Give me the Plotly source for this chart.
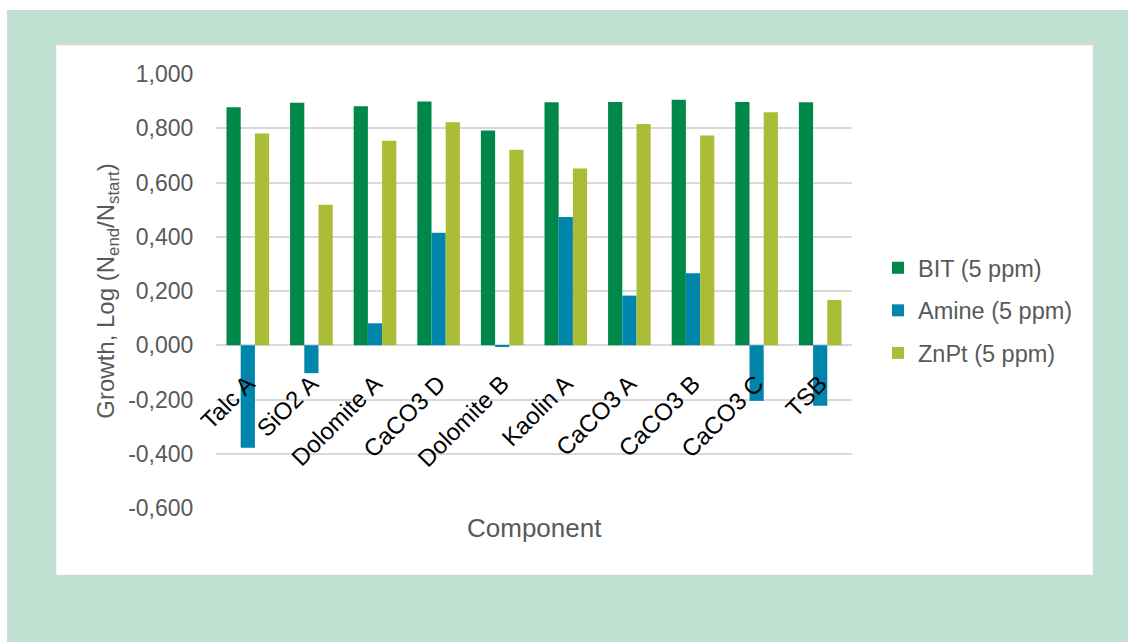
import plotly.graph_objects as go

# Growth of test organisms per mineral component and biocide
components = ["Talc A", "SiO2 A", "Dolomite A", "CaCO3 D", "Dolomite B",
              "Kaolin A", "CaCO3 A", "CaCO3 B", "CaCO3 C", "TSB"]
bit_5ppm = [0.877, 0.894, 0.881, 0.899, 0.792, 0.896, 0.897, 0.905, 0.897, 0.896]
amine_5ppm = [-0.378, -0.103, 0.081, 0.415, -0.006, 0.473, 0.183, 0.265, -0.205, -0.223]
znpt_5ppm = [0.781, 0.518, 0.754, 0.822, 0.721, 0.652, 0.816, 0.773, 0.859, 0.167]

y_tick_vals = [1.0, 0.8, 0.6, 0.4, 0.2, 0.0, -0.2, -0.4, -0.6]
y_tick_text = ["1,000", "0,800", "0,600", "0,400", "0,200", "0,000",
               "-0,200", "-0,400", "-0,600"]

series = [
    ("BIT (5 ppm)", bit_5ppm, "#00874a"),
    ("Amine (5 ppm)", amine_5ppm, "#0086ab"),
    ("ZnPt (5 ppm)", znpt_5ppm, "#abbc37"),
]

grey = "#595959"
fig = go.Figure()
for i, (name, vals, color) in enumerate(series):
    fig.add_trace(go.Bar(
        x=components, y=vals, name=name, legendgroup=f"g{i}",
        marker=dict(color=color, line=dict(width=0)),
    ))

# canvas geometry (pixels) used to place the panel shapes in paper units
W, H = 1128, 642
L, R, T, B = 216, 276, 74, 134
pw, ph = W - L - R, H - T - B


def px(x):
    return (x - L) / pw


def py(y):
    return (H - B - y) / ph


shapes = [
    dict(type="rect", xref="paper", yref="paper", layer="below",
         x0=px(7), x1=px(W + 2), y0=py(H + 2), y1=py(10),
         fillcolor="#bfe1d2", line=dict(width=0)),
    dict(type="rect", xref="paper", yref="paper", layer="below",
         x0=px(55.5), x1=px(1093.5), y0=py(575.5), y1=py(44.5),
         fillcolor="white", line=dict(color="#d6d6d6", width=1.5)),
]

fig.update_layout(
    width=W, height=H,
    margin=dict(l=L, r=R, t=T, b=B, pad=0),
    paper_bgcolor="white", plot_bgcolor="rgba(0,0,0,0)",
    font=dict(family="Liberation Sans, Arial, sans-serif", size=23, color=grey),
    barmode="group", bargap=0.33, bargroupgap=0,
    shapes=shapes,
    showlegend=True,
    legend=dict(x=px(878), y=py(246), xanchor="left", yanchor="top",
                font=dict(size=23.5, color=grey), bgcolor="rgba(0,0,0,0)",
                traceorder="grouped", tracegroupgap=9, itemwidth=30),
    xaxis=dict(
        anchor="free", position=0.6 / 1.6,
        tickangle=-45, tickfont=dict(size=24, color="black"),
        showgrid=False, showline=False, zeroline=False,
        ticks="outside", ticklen=14, tickcolor="rgba(0,0,0,0)",
    ),
    yaxis=dict(
        range=[-0.6, 1.0], tickvals=y_tick_vals, ticktext=y_tick_text,
        showgrid=True, gridcolor="#d9d9d9", gridwidth=1.5,
        zeroline=True, zerolinecolor="#d9d9d9", zerolinewidth=1.5,
        ticks="outside", ticklen=17, tickcolor="rgba(0,0,0,0)",
        tickfont=dict(size=23, color=grey),
        title=dict(text="Growth, Log (N<sub>end</sub>/N<sub>start</sub>)",
                   font=dict(size=24, color=grey), standoff=6),
    ),
    annotations=[
        dict(text="Component", xref="paper", yref="paper",
             x=0.5, y=py(528), xanchor="center", yanchor="middle",
             showarrow=False, font=dict(size=26, color=grey)),
    ],
)

fig.write_html("out.html")
